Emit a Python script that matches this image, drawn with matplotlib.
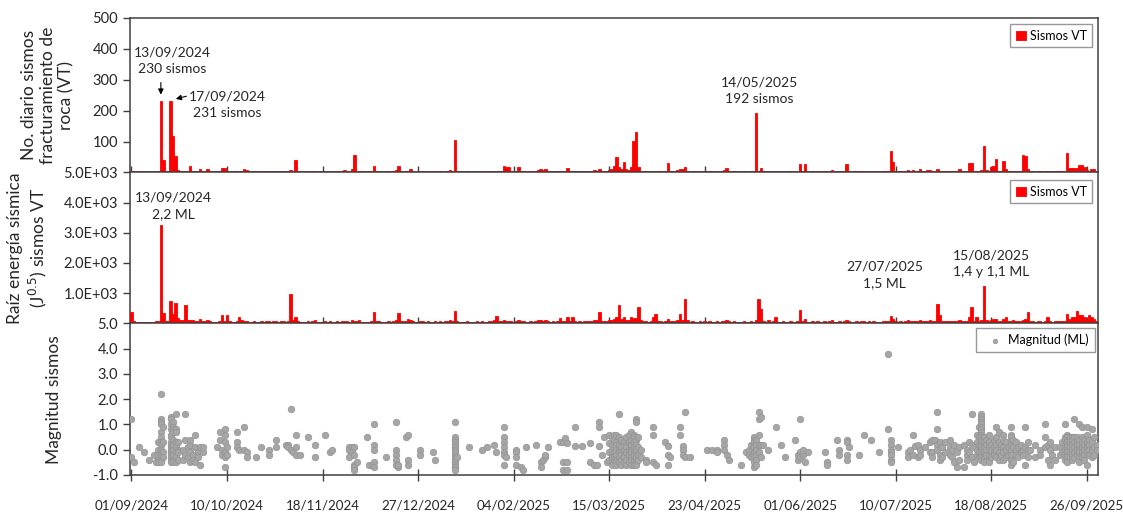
import pandas as pd
import matplotlib.pyplot as plt
import matplotlib.dates as mdates
from matplotlib.ticker import FixedLocator, FuncFormatter

plt.rcParams['font.family'] = ['Lato', 'DejaVu Sans']

INICIO = pd.Timestamp('2024-09-01')

# numero diario de sismos VT, un valor por dia desde 01/09/2024
vt_sep24 = [4, 3, 5, 5, 2, 0, 2, 3, 2, 3, 3, 4, 230, 40, 3, 6, 231, 117, 54, 8, 5, 6, 5, 4, 21, 5, 4, 6, 11, 4]
vt_oct24 = [5, 10, 4, 3, 5, 3, 6, 15, 15, 5, 3, 2, 4, 3, 5, 6, 11, 8, 4, 3, 5, 3, 2, 4, 3, 5, 4, 3, 6, 4, 3]
vt_nov24 = [5, 4, 3, 6, 8, 5, 40, 4, 3, 2, 3, 5, 3, 4, 6, 3, 2, 3, 4, 3, 5, 3, 2, 4, 3, 5, 8, 4, 3, 10]
vt_dic24 = [57, 5, 3, 4, 3, 2, 4, 5, 21, 6, 4, 3, 2, 3, 4, 3, 5, 8, 22, 5, 3, 4, 6, 11, 3, 2, 4, 3, 5, 3, 4]
vt_ene25 = [3, 2, 4, 3, 5, 3, 4, 6, 8, 5, 106, 4, 3, 2, 3, 4, 3, 2, 3, 4, 3, 5, 3, 2, 4, 3, 5, 3, 4, 6, 22]
vt_feb25 = [18, 17, 4, 3, 5, 18, 6, 4, 3, 2, 4, 3, 5, 8, 12, 9, 12, 5, 3, 4, 3, 5, 6, 3, 4, 15, 5, 3]
vt_mar25 = [4, 3, 5, 3, 6, 3, 4, 5, 8, 6, 12, 4, 3, 5, 8, 12, 21, 50, 18, 11, 35, 12, 8, 18, 103, 130, 18, 6, 4, 5, 3]
vt_abr25 = [4, 6, 3, 5, 4, 3, 5, 32, 6, 4, 5, 8, 10, 12, 18, 6, 3, 4, 2, 3, 4, 3, 5, 3, 4, 3, 2, 4, 3, 5]
vt_may25 = [8, 15, 6, 3, 4, 3, 2, 3, 4, 3, 2, 4, 3, 192, 5, 15, 4, 3, 2, 3, 4, 3, 2, 3, 4, 3, 2, 4, 3, 2, 3]
vt_jun25 = [28, 4, 28, 3, 2, 4, 3, 5, 3, 2, 4, 3, 5, 8, 3, 2, 5, 3, 4, 28, 5, 3, 2, 4, 3, 6, 4, 3, 5, 3]
vt_jul25 = [4, 3, 2, 3, 4, 5, 6, 71, 35, 4, 3, 5, 3, 6, 8, 5, 7, 4, 6, 10, 5, 4, 7, 8, 6, 5, 12, 6, 4, 5, 6]
vt_ago25 = [5, 4, 6, 4, 10, 5, 4, 6, 31, 31, 5, 6, 4, 8, 87, 8, 5, 18, 21, 43, 6, 4, 37, 12, 5, 4, 6, 5, 3, 4, 57]
vt_sep25 = [52, 10, 5, 4, 3, 5, 4, 3, 6, 4, 5, 3, 4, 6, 5, 4, 5, 62, 15, 15, 15, 16, 24, 24, 18, 8, 5, 12, 10, 4]

# raiz de la energia sismica diaria (J^0.5)
en_sep24 = [390, 60, 50, 40, 50, 0, 30, 40, 50, 40, 60, 80, 3270, 333, 60, 80, 750, 300, 660, 170,
            100, 120, 600, 100, 120, 100, 80, 60, 130, 80]
en_oct24 = [80, 100, 60, 50, 40, 50, 60, 280, 80, 280, 60, 40, 50, 80, 220, 100, 80, 60, 50, 40,
            60, 50, 40, 60, 50, 70, 60, 50, 80, 60, 50]
en_nov24 = [60, 70, 50, 80, 980, 100, 200, 60, 50, 40, 50, 60, 50, 80, 100, 50, 40, 50, 60, 50,
            70, 50, 40, 60, 50, 70, 80, 60, 50, 100]
en_dic24 = [90, 60, 100, 50, 40, 30, 50, 60, 360, 80, 60, 50, 40, 50, 60, 50, 70, 100, 330, 80,
            60, 70, 133, 100, 60, 40, 50, 60, 70, 50, 60]
en_ene25 = [50, 40, 60, 50, 70, 50, 60, 80, 100, 80, 420, 60, 50, 40, 50, 60, 50, 40, 50, 60,
            50, 70, 50, 40, 60, 80, 100, 243, 70, 80, 100]
en_feb25 = [90, 80, 60, 50, 70, 100, 80, 60, 50, 40, 60, 50, 70, 100, 120, 90, 110, 70, 50, 60,
            50, 80, 167, 60, 70, 220, 80, 220]
en_mar25 = [60, 50, 70, 50, 80, 60, 70, 80, 100, 120, 380, 90, 60, 80, 100, 120, 150, 200, 620, 150,
            200, 120, 100, 220, 180, 160, 550, 100, 60, 70, 50]
en_abr25 = [60, 220, 300, 80, 60, 50, 70, 130, 80, 60, 70, 100, 300, 120, 790, 100, 50, 60, 40, 50,
            60, 50, 70, 50, 60, 50, 40, 60, 50, 70]
en_may25 = [80, 120, 70, 50, 60, 50, 40, 50, 60, 50, 40, 60, 50, 100, 820, 480, 60, 50, 100, 50,
            60, 220, 40, 50, 60, 50, 40, 60, 50, 40, 60]
en_jun25 = [440, 60, 150, 50, 40, 60, 50, 70, 50, 40, 60, 50, 70, 100, 50, 40, 70, 50, 60, 120,
            70, 50, 40, 60, 50, 80, 60, 50, 70, 50]
en_jul25 = [60, 50, 40, 50, 60, 70, 80, 240, 150, 60, 50, 70, 50, 80, 100, 70, 90, 60, 80, 120,
            70, 60, 90, 100, 80, 70, 640, 270, 60, 70, 80]
en_ago25 = [70, 60, 80, 60, 120, 70, 60, 80, 220, 540, 80, 220, 60, 100, 1240, 100, 80, 120, 130, 150,
            80, 60, 140, 220, 80, 60, 100, 80, 60, 70, 100]
en_sep25 = [150, 387, 80, 60, 50, 70, 60, 50, 80, 220, 70, 50, 60, 80, 70, 60, 70, 300, 150, 220,
            200, 420, 270, 270, 200, 100, 270, 220, 150, 80]

# magnitudes ML: dia desde 01/09/2024 -> magnitudes de ese dia
ml_sep24 = {0: [1.2, -0.3], 1: [-0.5], 3: [0.1], 5: [-0.1], 7: [-0.4], 9: [-0.2], 10: [-0.5],
            11: [0.3, 0.0, -0.2, -0.4, -0.5],
            12: [2.2, 1.2, 1.1, 1.0, 0.7, 0.5, 0.3, 0.2, 0.0, -0.1, -0.2, -0.3, -0.4, -0.5],
            13: [0.9, 0.3, -0.1, -0.3],
            16: [1.3, 1.2, 1.0, 0.8, 0.6, 0.5, 0.3, 0.2, 0.1, 0.0, -0.1, -0.2, -0.3, -0.4, -0.5],
            17: [1.1, 0.9, 0.8, 0.7, 0.4, 0.2, 0.0, -0.2, -0.4, -0.5],
            18: [1.4, 0.8, 0.7, 0.3, 0.1, -0.1, -0.3, -0.5],
            19: [0.3, 0.0, -0.1, -0.4], 21: [0.0, -0.4], 22: [1.4, 0.4, -0.2], 23: [0.1, -0.3],
            24: [0.2, 0.4, -0.5, -0.1], 25: [-0.2, -0.4], 26: [0.6, 0.1, -0.5], 27: [-0.1, -0.3],
            28: [0.1, -0.6], 29: [-0.1, 0.1]}
ml_oct24 = {35: [0.1], 36: [0.7, 0.4], 37: [0.0, -0.2], 38: [0.8, 0.6, 0.3, -0.1, -0.3, -0.7],
            39: [0.1, -0.2], 43: [0.7, 0.3, 0.1], 44: [0.0], 46: [0.9, 0.0], 47: [-0.1, -0.3],
            51: [-0.3], 53: [0.1], 56: [0.0, -0.2], 59: [0.4, 0.1]}
ml_nov24 = {63: [0.2], 64: [0.2, 0.1], 65: [1.6, 0.0], 66: [-0.1], 67: [0.6, 0.1, -0.2], 69: [-0.2],
            72: [0.5], 75: [0.2, -0.3], 79: [0.6], 81: [-0.1], 82: [0.0], 89: [0.1, 0.0, -0.3],
            90: [0.1, -0.1]}
ml_dic24 = {91: [-0.2, -0.6, -0.7, -0.8, 0.1], 92: [-0.5], 96: [0.5], 97: [-0.6], 98: [-0.6],
            99: [1.0, 0.2, 0.0, -0.5, -0.7], 104: [-0.3], 108: [1.1, 0.0, -0.2, -0.4, -0.6],
            109: [-0.7, -0.6], 112: [0.5], 113: [0.6, -0.4, -0.6], 118: [0.0, -0.2]}
ml_ene25 = {123: [-0.1], 124: [-0.4],
            132: [1.1, 0.5, 0.4, 0.3, 0.2, 0.1, 0.0, -0.1, -0.2, -0.3, -0.4, -0.5, -0.6, -0.7, -0.8],
            133: [-0.3], 138: [0.1], 143: [0.0], 145: [0.1], 148: [0.2], 149: [-0.1],
            152: [0.9, 0.5, 0.3, 0.1, -0.1, -0.2, -0.6]}
ml_feb25 = {153: [-0.3], 157: [0.0, -0.1, -0.3, -0.6], 159: [-0.7], 160: [-0.8], 161: [0.1],
            165: [0.2], 167: [-0.5, -0.7], 168: [-0.4], 169: [-0.3, -0.2], 170: [0.1], 175: [0.3],
            176: [0.3, -0.5, -0.8], 177: [0.45], 178: [0.25, -0.5, -0.8]}
ml_mar25 = {181: [0.9, 0.15], 184: [0.15], 187: [0.25, -0.5], 189: [-0.6], 190: [-0.6],
            191: [1.1, 0.9, 0.15], 192: [-0.2], 193: [0.5], 194: [-0.5], 195: [0.25, 0.6, -0.1, -0.4],
            196: [0.5, 0.2, 0.0, -0.2, -0.3, -0.5, -0.6], 197: [0.6, 0.4, 0.1, -0.1, -0.3, -0.4],
            198: [0.6, 0.3, 0.2, 0.0, -0.2, -0.4, -0.5, -0.6], 199: [1.4, 0.5, 0.2, 0.0, -0.1, -0.3, -0.5],
            200: [0.4, 0.1, -0.1, -0.2, -0.4, -0.6], 201: [0.3, 0.0, -0.2, -0.3, -0.5],
            202: [0.5, 0.2, 0.1, -0.1, -0.4, -0.6], 203: [0.6, 0.3, 0.0, -0.2, -0.5],
            204: [0.7, 0.4, 0.2, 0.0, -0.1, -0.3, -0.4, -0.6],
            205: [0.6, 0.5, 0.3, 0.1, -0.1, -0.2, -0.4, -0.5, -0.6],
            206: [1.2, 1.1, 0.4, 0.2, 0.0, -0.2, -0.3, -0.5, -0.6], 207: [0.5, 0.1, -0.2, -0.4],
            208: [0.0, -0.3], 210: [-0.4, -0.5]}
ml_abr25 = {213: [0.9, 0.6, -0.5], 214: [-0.6], 218: [0.3], 219: [0.15, -0.2, -0.6], 220: [-0.3],
            224: [0.9, 0.6], 225: [0.15, 0.0, -0.2], 226: [1.5, -0.3], 228: [-0.3], 235: [0.0],
            237: [0.0], 239: [0.0, -0.1]}
ml_may25 = {242: [0.4, 0.2, 0.0], 243: [-0.2], 244: [-0.4], 249: [-0.6], 251: [-0.1], 252: [0.0, -0.2],
            253: [0.2, -0.3], 254: [0.5, 0.4, 0.3, 0.1, -0.1, -0.3, -0.5, -0.7],
            255: [0.4, 0.2, 0.0, -0.2, -0.4, -0.6], 256: [1.5, 1.2, 0.6, 0.2, -0.1], 257: [1.3, 0.2, -0.3],
            258: [0.2], 260: [0.0], 263: [0.9], 265: [0.2], 267: [-0.3], 271: [0.4], 272: [-0.2, -0.4]}
ml_jun25 = {273: [1.2, -0.1, -0.3], 274: [-0.2, 0.0], 275: [-0.5], 276: [-0.1], 283: [-0.1],
            284: [-0.5, -0.6], 288: [0.4], 289: [0.0, -0.2], 292: [0.4, 0.3, -0.2, -0.4], 293: [0.1],
            297: [-0.2], 299: [0.6], 302: [0.4]}
ml_jul25 = {305: [-0.1], 309: [3.8, 0.8], 310: [0.4, 0.2, 0.0, -0.1, -0.2, -0.4, -0.5], 313: [0.1],
            317: [-0.1, -0.3], 318: [0.0], 319: [0.6, -0.2], 320: [0.15], 321: [0.2, -0.3],
            322: [0.0, -0.2], 324: [0.1], 326: [0.3, -0.1], 327: [0.4, -0.1, -0.3], 328: [0.4],
            329: [1.5, 0.8, 0.2, 0.0], 330: [0.3, -0.2, -0.4], 331: [0.1, -0.3], 332: [0.3, -0.1]}
ml_ago25 = {334: [0.4, 0.1, -0.2], 335: [0.0, -0.3], 336: [0.2, -0.5], 337: [-0.1, -0.7],
            338: [0.1, -0.4], 340: [0.2, -0.7], 341: [0.0, -0.2, -0.4], 342: [0.3, -0.1],
            343: [1.4, 0.2, -0.3], 344: [0.1, -0.5], 345: [0.6, 0.3, 0.0, -0.2], 346: [0.9, 0.5, 0.2, -0.1, -0.3],
            347: [1.4, 1.3, 1.2, 1.1, 1.0, 0.9, 0.8, 0.7, 0.6, 0.5, 0.4, 0.3, 0.2, 0.1, 0.0, -0.1, -0.2, -0.3, -0.4],
            348: [0.5, 0.3, 0.1, -0.1, -0.3, -0.5], 349: [0.4, 0.2, 0.0, -0.2], 350: [0.6, 0.3, 0.1, -0.2, -0.5],
            351: [0.2, 0.0, -0.3], 352: [0.4, 0.1, -0.1, -0.2], 353: [0.9, 0.5, 0.2, 0.0, -0.3],
            354: [0.7, 0.3, -0.1, -0.4], 355: [0.2, -0.2], 356: [0.6, 0.4, 0.1, -0.1, -0.4],
            357: [0.3, 0.0, -0.3], 358: [0.1, -0.2], 359: [0.9, 0.6, 0.5, 0.3, 0.2, 0.0, -0.2, -0.4, -0.6],
            360: [0.4, 0.1, -0.5], 361: [0.3, 0.0, -0.2], 362: [0.1, -0.3], 363: [0.2, -0.1], 364: [0.0, -0.2]}
ml_sep25 = {365: [0.9, 0.1, -0.6], 366: [0.3, 0.0, -0.3], 367: [0.0], 369: [0.2, -0.3], 371: [0.0, -0.2],
            373: [1.0, 0.5, 0.1], 374: [0.2, -0.4], 375: [0.3, 0.0, -0.6], 376: [-0.2], 377: [0.1, -0.4],
            379: [0.1, -0.2], 380: [0.3, -0.1], 381: [1.0, 0.5, 0.4, 0.2, 0.0, -0.2, -0.4],
            382: [0.6, 0.5, 0.4, 0.3, 0.2, 0.1, 0.0, -0.1, -0.2, -0.3, -0.5], 383: [0.5, 0.3, 0.1, -0.1, -0.3],
            384: [0.5, 0.4, 0.2, 0.0, -0.2, -0.4], 385: [1.2, 0.5, 0.3, 0.1, -0.1, -0.3],
            386: [0.5, 0.3, 0.2, 0.0, -0.2], 387: [1.0, 0.4, 0.2, 0.0, -0.1, -0.3, -0.5],
            388: [0.9, 0.5, 0.3, 0.1, -0.1, -0.3], 389: [0.4, 0.2, 0.0, -0.2, -0.4],
            390: [0.9, 0.6, 0.3, 0.1, -0.1, -0.6], 391: [0.4, 0.2, 0.0, -0.2], 392: [0.8, 0.3, 0.0, -0.3],
            393: [0.5, 0.1, -0.2], 394: [0.2, 0.0]}

vt = sum([vt_sep24, vt_oct24, vt_nov24, vt_dic24, vt_ene25, vt_feb25, vt_mar25,
          vt_abr25, vt_may25, vt_jun25, vt_jul25, vt_ago25, vt_sep25], [])
energia = sum([en_sep24, en_oct24, en_nov24, en_dic24, en_ene25, en_feb25, en_mar25,
               en_abr25, en_may25, en_jun25, en_jul25, en_ago25, en_sep25], [])
fechas = pd.date_range(INICIO, periods=len(vt), freq='D')

ml_dias, ml_val = [], []
for grupo in [ml_sep24, ml_oct24, ml_nov24, ml_dic24, ml_ene25, ml_feb25, ml_mar25,
              ml_abr25, ml_may25, ml_jun25, ml_jul25, ml_ago25, ml_sep25]:
    for dia, mags in grupo.items():
        for m in mags:
            ml_dias.append(dia)
            ml_val.append(m)
ml_fechas = INICIO + pd.to_timedelta(ml_dias, unit='D')

ticks_x = pd.date_range(INICIO, periods=11, freq='39D')

ROJO = '#FF0000'
GRIS = '#A6A6A6'
BORDE = '#404040'
TEXTO = '#262626'

fig = plt.figure(figsize=(11.23, 5.14), dpi=100)
L, W = 130 / 1123, 968 / 1123
ax1 = fig.add_axes([L, 1 - 172.5 / 514, W, 154.5 / 514])
ax2 = fig.add_axes([L, 1 - 323.3 / 514, W, 150.8 / 514])
ax3 = fig.add_axes([L, 1 - 475 / 514, W, 151.7 / 514])

for ax in (ax1, ax2, ax3):
    ax.set_xlim(INICIO - pd.Timedelta(days=0.6), INICIO + pd.Timedelta(days=394.6))
    ax.set_xticks(ticks_x)
    ax.xaxis.set_major_formatter(mdates.DateFormatter('%d/%m/%Y'))
    ax.tick_params(axis='x', direction='inout', length=8, width=1, color=BORDE, labelsize=9.6)
    ax.tick_params(axis='y', direction='out', length=5, width=1, color=BORDE, labelsize=10.5,
                   labelcolor=TEXTO)
    for s in ax.spines.values():
        s.set_color(BORDE)
        s.set_linewidth(1.1)
for ax in (ax1, ax2):
    ax.tick_params(axis='x', labelbottom=False)
ax3.tick_params(axis='x', labelcolor=TEXTO, pad=14)

leyenda = dict(fontsize=9, frameon=True, fancybox=False, edgecolor='#7f7f7f', borderaxespad=0,
               borderpad=0.45)

# panel 1: numero de sismos VT
ax1.bar(fechas, vt, width=1.0, color=ROJO, edgecolor=ROJO, linewidth=0.6, label='Sismos VT', zorder=3)
ax1.set_ylim(0, 500)
ax1.yaxis.set_major_locator(FixedLocator([100, 200, 300, 400, 500]))
ax1.legend(loc='upper right', bbox_to_anchor=(0.994, 0.96), handlelength=0.8, handleheight=0.8,
           handletextpad=0.3, **leyenda)

d13 = INICIO + pd.Timedelta(days=12)
ax1.text(INICIO + pd.Timedelta(days=16.5), 362, '13/09/2024\n230 sismos', ha='center', va='center',
         fontsize=10, linespacing=1.45, color=TEXTO)
ax1.annotate('', xy=(d13, 243), xytext=(d13, 300),
             arrowprops=dict(arrowstyle='-|>', color='black', lw=0.8, mutation_scale=8))
ax1.text(INICIO + pd.Timedelta(days=39), 220, '17/09/2024\n231 sismos', ha='center', va='center',
         fontsize=10, linespacing=1.45, color=TEXTO)
ax1.annotate('', xy=(INICIO + pd.Timedelta(days=17), 236), xytext=(INICIO + pd.Timedelta(days=23.5), 249),
             arrowprops=dict(arrowstyle='-|>', color='black', lw=0.8, mutation_scale=8))
ax1.text(INICIO + pd.Timedelta(days=256.5), 264, '14/05/2025\n192 sismos', ha='center', va='center',
         fontsize=10, linespacing=1.45, color=TEXTO)

# panel 2: raiz de la energia
ax2.bar(fechas, energia, width=1.0, color=ROJO, edgecolor=ROJO, linewidth=0.6, label='Sismos VT', zorder=3)
ax2.set_ylim(0, 5000)
ax2.yaxis.set_major_locator(FixedLocator([1000, 2000, 3000, 4000, 5000]))
ax2.yaxis.set_major_formatter(FuncFormatter(lambda v, p: '%.1fE+03' % (v / 1000)))
ax2.legend(loc='upper right', bbox_to_anchor=(0.994, 0.95), handlelength=0.8, handleheight=0.8,
           handletextpad=0.3, **leyenda)
ax2.text(INICIO + pd.Timedelta(days=17), 3890, '13/09/2024\n2,2 ML', ha='center', va='center',
         fontsize=10, linespacing=1.45, color=TEXTO)
ax2.text(INICIO + pd.Timedelta(days=307.5), 1600, '27/07/2025\n1,5 ML', ha='center', va='center',
         fontsize=10, linespacing=1.45, color=TEXTO)
ax2.text(INICIO + pd.Timedelta(days=351), 1960, '15/08/2025\n1,4 y 1,1 ML', ha='center', va='center',
         fontsize=10, linespacing=1.45, color=TEXTO)

# panel 3: magnitudes
ax3.scatter(ml_fechas, ml_val, s=22, color=GRIS, edgecolors='#939393', linewidths=0.5,
            label='Magnitud (ML)', zorder=3)
ax3.set_ylim(-1, 5)
ax3.yaxis.set_major_locator(FixedLocator([-1, 0, 1, 2, 3, 4, 5]))
ax3.yaxis.set_major_formatter(FuncFormatter(lambda v, p: '%.1f' % v))
ax3.legend(loc='upper right', bbox_to_anchor=(0.9965, 0.97), handletextpad=0.1, markerscale=0.7,
           **leyenda)

fig.text(48 / 1123, 1 - 95 / 514, 'No. diario sismos\nfracturamiento de\nroca (VT)', rotation=90,
         ha='center', va='center', multialignment='center', fontsize=12.5, linespacing=1.2,
         color=TEXTO)
fig.text(28 / 1123, 1 - 248 / 514, 'Raíz energía sísmica\n(J$^{0.5}$) sismos VT', rotation=90,
         ha='center', va='center', multialignment='center', fontsize=12.5, linespacing=1.2,
         color=TEXTO)
fig.text(54 / 1123, 1 - 400 / 514, 'Magnitud sismos', rotation=90,
         ha='center', va='center', fontsize=12.5, color=TEXTO)

fig.savefig('out.png', dpi=100)
